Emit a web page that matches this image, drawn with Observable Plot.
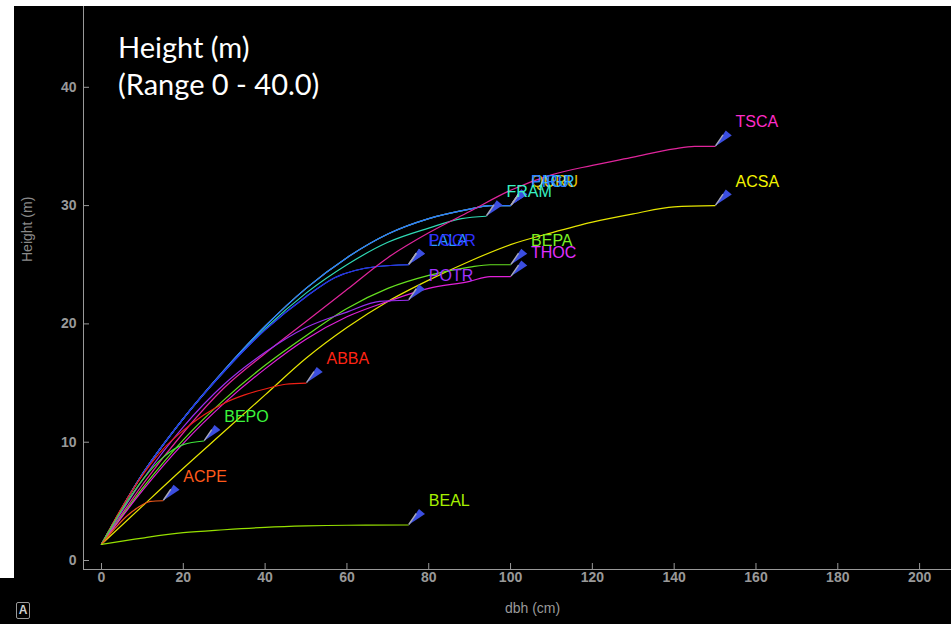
<!DOCTYPE html>
<html>
<head>
<meta charset="utf-8">
<script src="https://cdn.jsdelivr.net/npm/d3@7"></script>
<script src="https://cdn.jsdelivr.net/npm/@observablehq/plot@0.6"></script>
<style>
  html, body { margin: 0; padding: 0; background: #000; width: 951px; height: 624px; overflow: hidden; }
  #wrap { position: relative; width: 951px; height: 624px; }
  #chart { position: absolute; left: 0; top: 0; }
  .edge-top { position: absolute; left: 0; top: 0; width: 951px; height: 6px; background: #fff; }
  .edge-left { position: absolute; left: 0; top: 0; width: 14px; height: 578px; background: #fff; }
  #title { position: absolute; left: 118px; top: 28px; color: #fff; font-family: Lato, "Open Sans", sans-serif; font-size: 29px; line-height: 37px; }
  #badge { position: absolute; left: 16px; top: 602px; width: 12px; height: 15px; border: 1px solid #9a9a9a; border-radius: 2px;
           color: #cfcfcf; font: bold 12px "Liberation Sans", Arial, sans-serif; line-height: 15px; text-align: center; }
</style>
</head>
<body>
<div id="wrap">
  <div id="chart"></div>
  <div class="edge-top"></div>
  <div class="edge-left"></div>
  <div id="title">Height (m)<br>(Range 0 - 40.0)</div>
  <div id="badge">A</div>
</div>
<script>
// Height–diameter curves per species: [dbh (cm), height (m)]
const quru = [[0,1.37],[10,7.3],[20,12.0],[30,16.1],[40,19.8],[50,23.0],[60,25.6],[70,27.6],[80,28.9],[90,29.7],[95,30.0],[100,30.0]];
const fagr = [[0,1.37],[10,7.3],[20,12.0],[30,16.1],[40,19.8],[50,23.0],[60,25.6],[70,27.6],[80,28.9],[90,29.7],[95,30.0],[100,30.0]];
const piru = [[0,1.37],[10,7.3],[20,12.0],[30,16.1],[40,19.8],[50,23.0],[60,25.6],[70,27.6],[80,28.9],[90,29.7],[95,30.0],[100,30.0]];
const fram = [[0,1.37],[10,7.3],[20,12.0],[30,16.0],[40,19.6],[50,22.6],[60,25.0],[70,26.9],[80,28.1],[88,28.9],[94,29.1]];
const lala = [[0,1.37],[10,7.3],[20,12.0],[30,16.0],[40,19.5],[50,22.3],[57,23.9],[67.5,24.85],[75,25.0]];
const pogr = [[0,1.37],[10,7.3],[20,12.0],[30,16.0],[40,19.5],[50,22.3],[57,23.9],[67.5,24.85],[75,25.0]];
const acsa = [[0,1.37],[10,4.6],[20,7.8],[30,10.9],[40,14.0],[50,17.1],[60,19.7],[70,21.9],[80,23.7],[90,25.3],[100,26.7],[110,27.7],[120,28.6],[130,29.3],[140,29.9],[150,30.0]];
const tsca = [[0,1.37],[10,6.4],[20,10.8],[30,14.6],[40,17.5],[50,20.2],[60,22.9],[70,25.6],[80,27.7],[90,29.5],[100,31.3],[110,32.6],[120,33.4],[130,34.1],[140,34.8],[145,35.0],[150,35.0]];
const bepa = [[0,1.37],[10,6.1],[20,10.2],[30,13.6],[40,16.5],[50,19.0],[60,21.3],[70,23.0],[80,24.1],[90,24.8],[95,25.0],[100,25.0]];
const thoc = [[0,1.37],[10,5.9],[20,9.9],[30,13.3],[40,16.2],[50,18.7],[60,20.6],[70,21.9],[80,23.0],[90,23.6],[95,24.0],[100,24.0]];
const potr = [[0,1.37],[10,6.8],[20,11.3],[30,14.9],[40,17.6],[50,19.7],[60,21.0],[68,21.9],[75,22.0]];
const abba = [[0,1.37],[5,4.5],[10,7.2],[15,9.4],[20,11.0],[25,12.3],[30,13.3],[35,14.0],[40,14.5],[45,14.9],[50,15.0]];
const bepo = [[0,1.37],[5,4.3],[10,6.8],[15,8.7],[20,9.8],[25,10.1]];
const acpe = [[0,1.37],[3,2.6],[6,3.7],[9,4.5],[12,5.0],[15,5.05]];
const beal = [[0,1.37],[10,1.9],[20,2.35],[30,2.6],[40,2.8],[50,2.92],[60,2.98],[75,3.0]];

const speciesCodes  = ["QURU", "FAGR", "PIRU", "FRAM", "LALA", "POGR", "ACSA", "TSCA", "BEPA", "THOC", "POTR", "ABBA", "BEPO", "ACPE", "BEAL"];
const speciesCurves = [quru, fagr, piru, fram, lala, pogr, acsa, tsca, bepa, thoc, potr, abba, bepo, acpe, beal];
const lineColors    = ["#d8a800", "#27b4f0", "#2a78ff", "#2fd9b4", "#2f8cff", "#2a2ae6", "#e6e600", "#e0259c", "#66e020", "#e020d8", "#9a2ff0", "#ee2016", "#3ee63a", "#f0581a", "#96e000"];
const labelColors   = ["#e8c000", "#33c4ff", "#2f7dff", "#38f0c4", "#2a9cff", "#2f2fff", "#f2f200", "#ff2cc8", "#7cf024", "#e030ff", "#a033ff", "#ff2414", "#3cf53c", "#ff5a1a", "#a6f000"];

const dbhTicks = [0, 20, 40, 60, 80, 100, 120, 140, 160, 180, 200];
const heightTicks = [0, 10, 20, 30, 40];

const rows = speciesCurves.flatMap((pts, i) =>
  pts.map(([dbh, height]) => ({code: speciesCodes[i], dbh, height, color: lineColors[i]})));
const ends = speciesCurves.map((pts, i) => ({
  code: speciesCodes[i], dbh: pts[pts.length - 1][0], height: pts[pts.length - 1][1], label: labelColors[i]
}));

// Arrowhead pointing down-left at a curve's end
const arrowHead = {draw(ctx) { ctx.moveTo(0, 0); ctx.lineTo(10.7, -16); ctx.lineTo(16.7, -11); ctx.closePath(); }};
const arrowEdge = {draw(ctx) { ctx.moveTo(0.5, -0.5); ctx.lineTo(8, -11.5); }};

const chart = Plot.plot({
  width: 951,
  height: 624,
  marginLeft: 83,
  marginRight: 0,
  marginTop: 6,
  marginBottom: 55,
  style: {background: "#000", color: "#999", fontFamily: "'Liberation Sans', Arial, sans-serif", fontSize: "14px", fontWeight: "bold"},
  x: {domain: [-4.4, 207.8], ticks: dbhTicks, tickSize: -6, tickPadding: 9, line: true, label: null},
  y: {domain: [-0.76, 46.83], ticks: heightTicks, tickSize: -6, tickPadding: 13, line: true, label: null},
  marks: [
    Plot.line(rows, {x: "dbh", y: "height", z: "code", stroke: "color", strokeWidth: 1.2, curve: "monotone-x"}),
    Plot.dot(ends, {x: "dbh", y: "height", symbol: arrowHead, fill: "#3b4ee0", stroke: "none"}),
    Plot.dot(ends, {x: "dbh", y: "height", symbol: arrowEdge, fill: "none", stroke: "#a8a8b8", strokeWidth: 1.4}),
    Plot.text(ends, {x: "dbh", y: "height", text: "code", fill: "label", dx: 20.5, dy: -19,
                     textAnchor: "start", lineAnchor: "bottom", fontSize: 16, fontWeight: "normal"}),
    Plot.text(["dbh (cm)"], {frameAnchor: "bottom", text: d => d, dx: 15, dy: 43, fontSize: 14, fontWeight: "normal", fill: "#9a9a9a"}),
    Plot.text(["Height (m)"], {frameAnchor: "left", text: d => d, rotate: -90, dx: -56, dy: -26, fontSize: 14, fontWeight: "normal", fill: "#8a8a8a"})
  ]
});
document.getElementById("chart").appendChild(chart);
</script>
</body>
</html>
